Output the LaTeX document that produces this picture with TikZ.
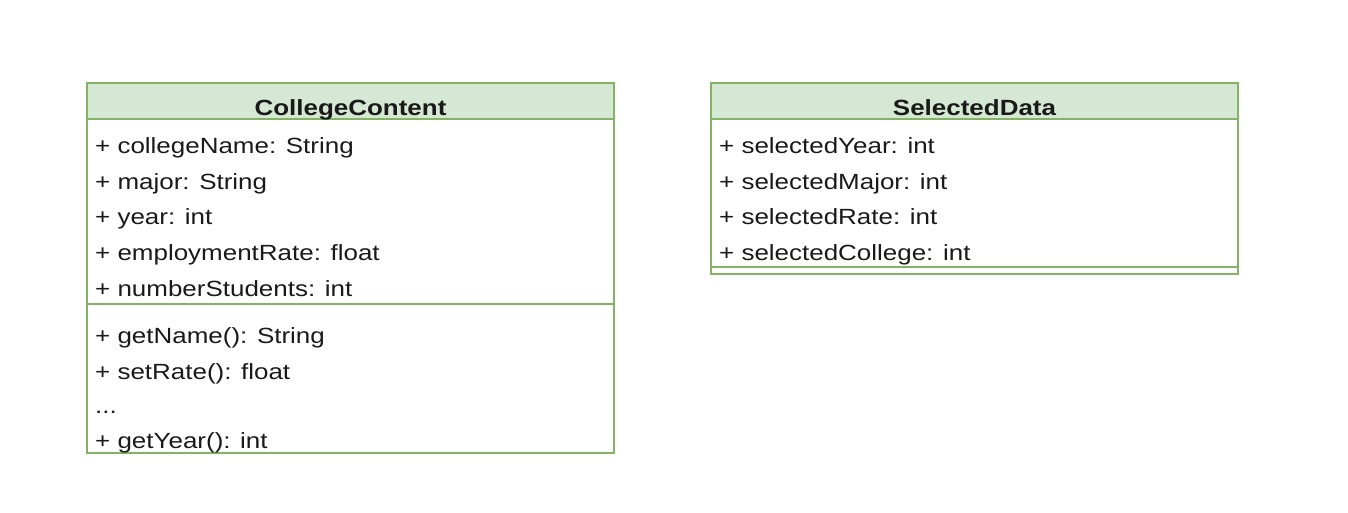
\documentclass[tikz,border=0pt]{standalone}
\usepackage{fontspec}
\setmainfont{Liberation Sans}[FakeStretch=1.18]
\definecolor{umlborder}{HTML}{82B366}
\definecolor{umlhead}{HTML}{D5E8D4}
\definecolor{umltext}{HTML}{1A1A1A}
\begin{document}
\begin{tikzpicture}[x=1pt,y=-1pt,
  box/.style={draw=umlborder,line width=1.3pt},
  head/.style={draw=umlborder,fill=umlhead,line width=1.3pt},
  sep/.style={draw=umlborder,line width=1.3pt},
  attr/.style={anchor=base west,inner sep=0pt,text=umltext,font=\fontsize{22}{26}\selectfont},
  title/.style={anchor=base,inner sep=0pt,text=umltext,font=\fontsize{22}{26}\selectfont\bfseries}]
\useasboundingbox[fill=white] (0,0) rectangle (1348,512);
% CollegeContent
\path[box] (87,83) rectangle (614,453);
\path[head] (87,83) rectangle (614,119);
\draw[sep] (87,304) -- (614,304);
\node[title] (cct) at (350.5,115) {CollegeContent};
\node[attr] (c1) at (95,153) {+ collegeName: String};
\node[attr] (c2) at (95,189) {+ major: String};
\node[attr] (c3) at (95,224.5) {+ year: int};
\node[attr] (c4) at (95,260) {+ employmentRate: float};
\node[attr] (c5) at (95,296) {+ numberStudents: int};
\node[attr] (m1) at (95,343) {+ getName(): String};
\node[attr] (m2) at (95,379) {+ setRate(): float};
\node[attr] (m3) at (95,413) {...};
\node[attr] (m4) at (95,448) {+ getYear(): int};
% SelectedData
\path[box] (711,83) rectangle (1238,274);
\path[head] (711,83) rectangle (1238,119);
\draw[sep] (711,267) -- (1238,267);
\node[title] (sdt) at (974.5,115) {SelectedData};
\node[attr] (s1) at (719,153) {+ selectedYear: int};
\node[attr] (s2) at (719,189) {+ selectedMajor: int};
\node[attr] (s3) at (719,224.5) {+ selectedRate: int};
\node[attr] (s4) at (719,260) {+ selectedCollege: int};
\end{tikzpicture}
\end{document}
